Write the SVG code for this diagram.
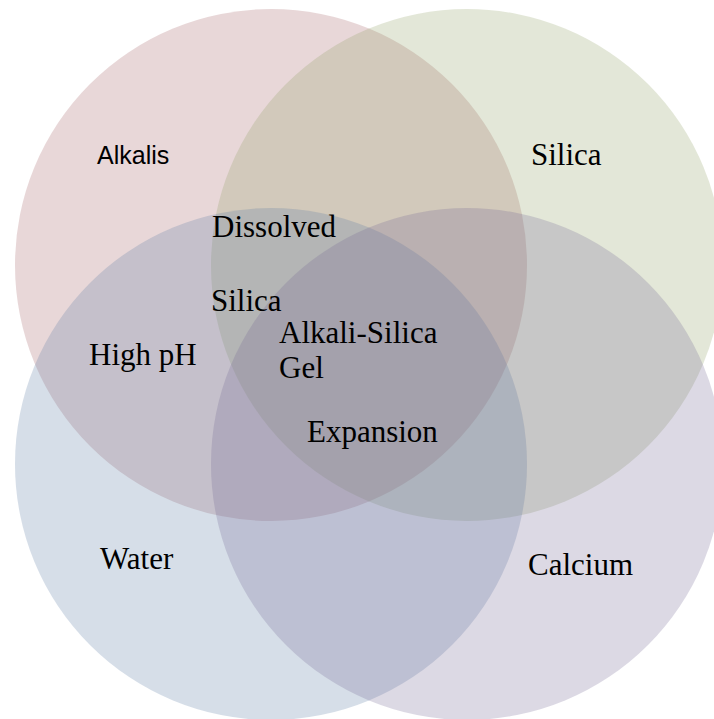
<svg xmlns="http://www.w3.org/2000/svg" width="714" height="719" viewBox="0 0 714 719">
<style>
.c{fill-opacity:0.25;stroke:none}
.t{font-family:"Liberation Serif","Times New Roman",serif;font-size:31px;fill:#000}
.s{font-family:"Liberation Sans",Arial,sans-serif;font-size:25px;fill:#000}
</style>
<rect width="714" height="719" fill="#fff"/>
<g id="alkalis"><circle class="c" cx="271" cy="265" r="256" fill="#A35F63"/></g>
<g id="silica"><circle class="c" cx="467" cy="265" r="256" fill="#8F9F63"/></g>
<g id="water"><circle class="c" cx="271" cy="464" r="256" fill="#5B7BA3"/></g>
<g id="calcium"><circle class="c" cx="467" cy="464" r="256" fill="#736793"/></g>
<g id="labels">
<text class="s" x="97" y="164">Alkalis</text>
<text class="t" x="531" y="165">Silica</text>
<text class="t" x="212" y="237">Dissolved</text>
<text class="t" x="211" y="311">Silica</text>
<text class="t" x="279" y="343">Alkali-Silica</text>
<text class="t" x="279" y="378">Gel</text>
<text class="t" x="89" y="365">High pH</text>
<text class="t" x="307" y="442">Expansion</text>
<text class="t" x="100" y="569">Water</text>
<text class="t" x="528" y="575">Calcium</text>
</g>
</svg>
